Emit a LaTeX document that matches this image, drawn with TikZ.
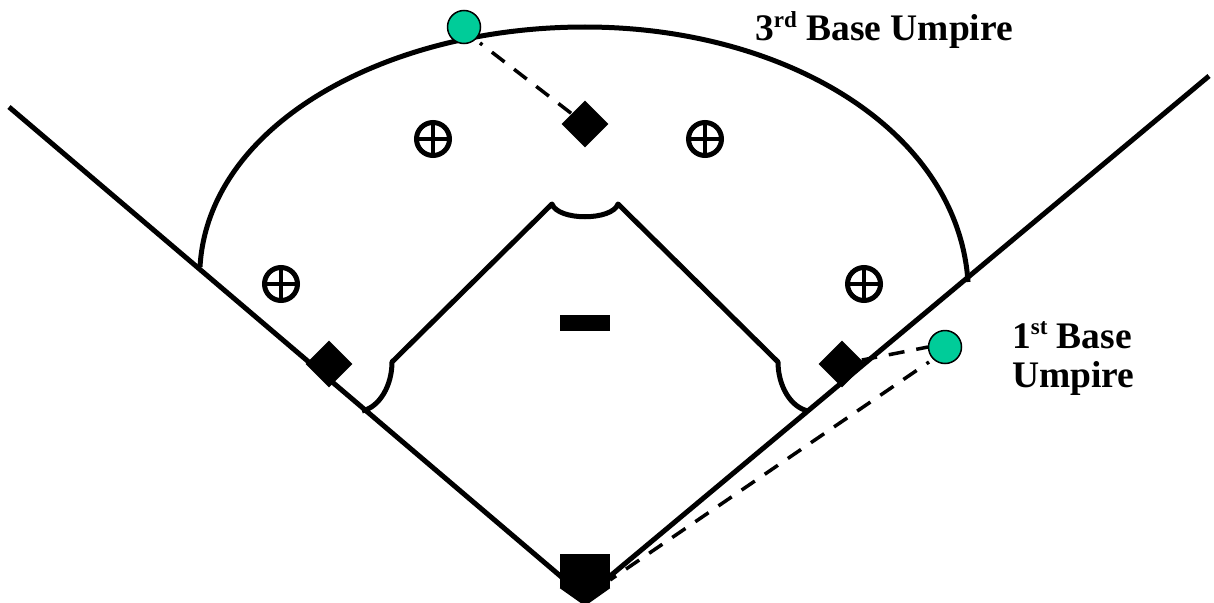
\documentclass[tikz,border=0pt]{standalone}
\usepackage{fontspec}
\setmainfont{Liberation Serif}
\usetikzlibrary{shapes.geometric}
\definecolor{ump}{RGB}{0,204,153}
\tikzset{x=1pt,y=-1pt,
 fieldline/.style={line width=5pt,black},
 basemark/.style={diamond,fill=black,draw=none,minimum width=47pt,minimum height=47pt,inner sep=0pt},
 fielder/.style={circle,draw=black,line width=5pt,minimum size=33pt,inner sep=0pt,
   path picture={\draw[line width=4pt] (path picture bounding box.north)--(path picture bounding box.south);
                 \draw[line width=4pt] (path picture bounding box.west)--(path picture bounding box.east);}},
 umpire/.style={circle,fill=ump,draw=black,line width=1.5pt,minimum size=33pt,inner sep=0pt},
 sight/.style={line width=3.5pt,dash pattern=on 16pt off 12pt},
 lab/.style={font=\fontsize{37.5}{42}\selectfont\bfseries,inner sep=0pt,align=left,anchor=west}}
\newcommand{\sups}[1]{\raisebox{0.36em}{\fontsize{23}{23}\selectfont #1}}
\begin{document}
\begin{tikzpicture}
\useasboundingbox (0,0) rectangle (1214,602);
\coordinate (leftend) at (9,107);
\coordinate (rightend) at (1209,76);
\coordinate (apex) at (585,597);
\coordinate (arcL) at (200,267);
\coordinate (arcT) at (585,27);
\coordinate (arcR) at (968,282);
\coordinate (inL) at (392,362);
\coordinate (inTL) at (552,204);
\coordinate (inTR) at (618,204);
\coordinate (inR) at (778,362);
\coordinate (grassL) at (362,411);
\coordinate (grassR) at (808,411);
\coordinate (u3s) at (480,43);
\coordinate (u1s) at (928,347);
\coordinate (u1p) at (929,362);
\coordinate (platep) at (610,580);
% foul lines
\draw[fieldline,line join=miter] (leftend) -- (apex) -- (rightend);
% outfield
\draw[fieldline] (arcL) .. controls (208,125) and (385,27) .. (arcT)
  .. controls (785,27) and (958,130) .. (arcR);
% infield
\draw[fieldline,line join=round] (grassL) .. controls (380,407) and (392,385) .. (inL) -- (inTL)
  .. controls (558,221) and (612,221) .. (inTR) -- (inR)
  .. controls (778,385) and (790,407) .. (grassR);
% bases
\node[basemark] (second) at (585,124) {};
\node[basemark] (first) at (842,364) {};
\node[basemark] (third) at (329,364) {};
\node[fill=black,minimum width=50pt,minimum height=34pt,inner sep=0pt] (plate) at (585,571) {};
\fill[black] (plate.south west) -- (plate.south east) -- (585,606) -- cycle;
\node[fill=black,minimum width=50pt,minimum height=16pt,inner sep=0pt] (mound) at (585,323) {};
% fielders
\node[fielder] (f1) at (433,139) {};
\node[fielder] (f2) at (705,139) {};
\node[fielder] (f3) at (281,284) {};
\node[fielder] (f4) at (864,284) {};
% umpire sight lines
\draw[sight,dash phase=13pt] (u3s) -- (second);
\draw[sight,dash phase=4pt] (u1s) -- (first);
\draw[sight,dash phase=13pt] (u1p) -- (platep);
% umpires
\node[umpire] (u3) at (464,27) {};
\node[umpire] (u1) at (945,347) {};
% labels
\node[lab] (l3) at (755,30) {3\sups{rd} Base Umpire};
\node[lab] (l1) at (1012,335) {1\sups{st} Base};
\node[lab] (l1b) at (1012,378) {Umpire};
\end{tikzpicture}
\end{document}
